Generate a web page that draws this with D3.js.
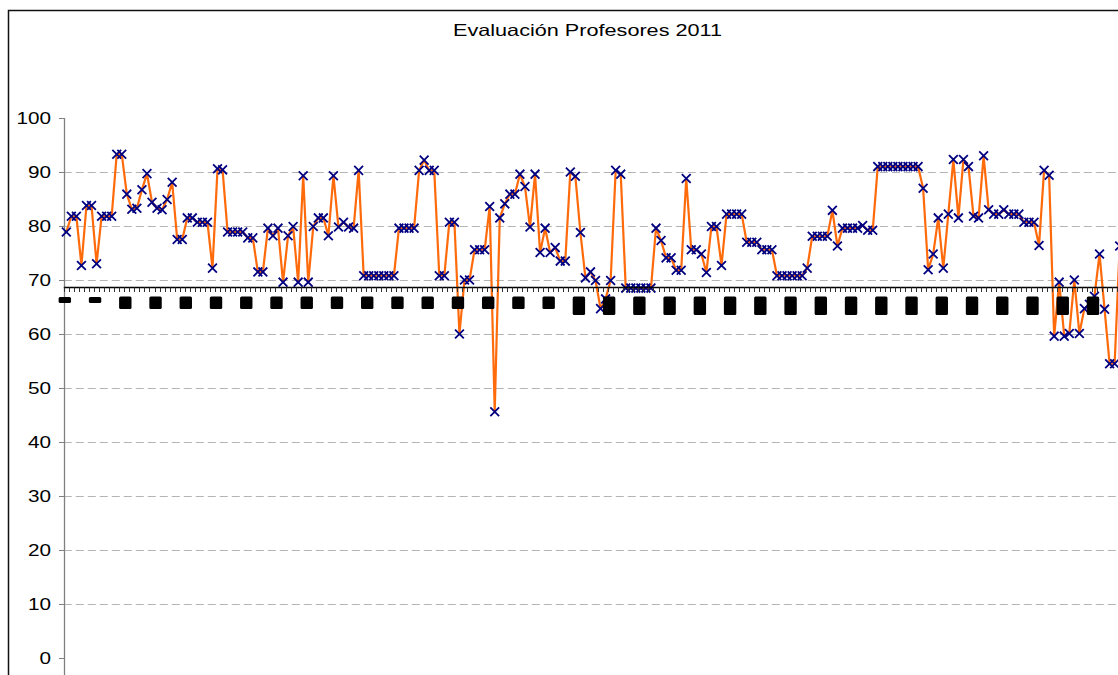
<!DOCTYPE html>
<html lang="es">
<head>
    <meta charset="utf-8">
    <title>Evaluación Profesores 2011</title>
    <style>
        body {
            margin: 0;
            background: #fff;
        }

        svg {
            display: block;
            font-family: "Liberation Sans", Arial, sans-serif;
        }

        .grid line {
            stroke: #b4b4b4;
            stroke-dasharray: 8, 4;
        }
    </style>
</head>
<body>

<svg width="1118" height="675"></svg>

<script src="https://cdn.jsdelivr.net/npm/d3@7"></script>
<script>

    // ---- data ----
    const title = "Evaluación Profesores 2011";

    const yTicks = [0, 10, 20, 30, 40, 50, 60, 70, 80, 90, 100];

    // one value per teacher, in category order (only the visible part of the chart)
    const scores = [
        78.9, 81.8, 81.8, 72.7, 83.8, 83.8, 73.0, 81.8, 81.8, 81.8,
        93.3, 93.3, 85.9, 83.1, 83.3, 86.7, 89.7, 84.4, 83.3, 83.0,
        84.9, 88.1, 77.5, 77.5, 81.5, 81.5, 80.7, 80.7, 80.7, 72.2,
        90.6, 90.4, 78.9, 78.9, 78.9, 78.9, 77.8, 77.8, 71.5, 71.5,
        79.6, 78.2, 79.6, 69.6, 78.2, 79.9, 69.6, 89.3, 69.6, 79.9,
        81.5, 81.5, 78.2, 89.3, 79.8, 80.7, 79.8, 79.6, 90.3, 70.8,
        70.8, 70.8, 70.8, 70.8, 70.8, 70.8, 79.6, 79.6, 79.6, 79.6,
        90.3, 92.2, 90.3, 90.3, 70.8, 70.8, 80.7, 80.7, 60.0, 70.0,
        70.0, 75.6, 75.6, 75.6, 83.6, 45.6, 81.5, 84.1, 85.9, 85.9,
        89.6, 87.3, 79.8, 89.6, 75.1, 79.6, 75.1, 76.0, 73.5, 73.5,
        90.0, 89.2, 78.8, 70.4, 71.5, 69.9, 64.7, 66.5, 69.9, 90.3,
        89.6, 68.5, 68.5, 68.5, 68.5, 68.5, 68.5, 79.6, 77.3, 74.1,
        74.1, 71.8, 71.8, 88.8, 75.6, 75.6, 74.8, 71.4, 79.9, 79.9,
        72.7, 82.2, 82.2, 82.2, 82.2, 77.0, 77.0, 77.0, 75.6, 75.6,
        75.6, 70.8, 70.8, 70.8, 70.8, 70.8, 70.8, 72.2, 78.1, 78.1,
        78.1, 78.1, 82.9, 76.3, 79.6, 79.6, 79.6, 79.6, 80.1, 79.2,
        79.2, 91.0, 91.0, 91.0, 91.0, 91.0, 91.0, 91.0, 91.0, 91.0,
        87.0, 71.9, 74.8, 81.5, 72.2, 82.2, 92.3, 81.5, 92.3, 91.0,
        81.8, 81.5, 93.0, 83.0, 82.2, 82.2, 83.0, 82.2, 82.2, 82.2,
        80.7, 80.7, 80.7, 76.4, 90.3, 89.4, 59.6, 69.6, 59.6, 60.1,
        70.0, 60.1, 64.7, 65.5, 67.0, 74.8, 64.6, 54.5, 54.5, 76.3
    ];

    // category labels are unreadable blocks in the original: one every 6 categories,
    // with three lengths (1 short, 2 medium, 3 long)
    const labelLength = [
        1, 1, 2, 2, 2, 2, 2, 2, 2, 2, 2, 2, 2, 2, 2, 2, 2,
        3, 3, 3, 3, 3, 3, 3, 3, 3, 3, 3, 3, 3, 3, 3, 3, 3, 3
    ];

    // ---- layout ----
    const svg = d3.select("svg");
    const plot = {left: 63.8, top: 118, bottom: 658, step: 5.04};
    const axisCross = 68.7;   // horizontal axis crosses the value axis here
    const nCats = scores.length + 1;
    const cats = d3.range(1, nCats + 1);

    const x = d3.scaleBand()
        .domain(cats)
        .range([plot.left, plot.left + plot.step * nCats])
        .paddingInner(0).paddingOuter(0);
    const cx = i => x(i) + x.bandwidth() / 2;

    const y = d3.scaleLinear()
        .domain([0, 100])
        .range([plot.bottom, plot.top]);

    // chart frame (only its top and left edges are in view)
    svg.append("path")
        .attr("d", "M8.5,675 V10.5 H1118")
        .attr("fill", "none")
        .attr("stroke", "#111")
        .attr("stroke-width", 1.5);

    // title
    svg.append("text")
        .attr("x", 587.5)
        .attr("y", 36)
        .attr("text-anchor", "middle")
        .attr("font-size", 16.5)
        .attr("textLength", 269)
        .attr("lengthAdjust", "spacingAndGlyphs")
        .attr("fill", "#000")
        .text(title);

    // gridlines
    svg.append("g")
        .attr("class", "grid")
        .selectAll("line")
        .data(yTicks.filter(d => d > 0 && d < 100))
        .join("line")
        .attr("x1", plot.left)
        .attr("x2", 1118)
        .attr("y1", d => Math.round(y(d)) + 0.5)
        .attr("y2", d => Math.round(y(d)) + 0.5);

    // value axis
    const yAxis = svg.append("g");
    yAxis.append("line")
        .attr("x1", 64.5).attr("x2", 64.5)
        .attr("y1", plot.top).attr("y2", 675)
        .attr("stroke", "#808080")
        .attr("stroke-width", 1.3);
    yAxis.selectAll(".tick")
        .data(yTicks)
        .join("line")
        .attr("x1", 59).attr("x2", 64.5)
        .attr("y1", d => Math.round(y(d)) + 0.5)
        .attr("y2", d => Math.round(y(d)) + 0.5)
        .attr("stroke", "#808080");
    yAxis.selectAll("text")
        .data(yTicks)
        .join("text")
        .attr("transform", d => `translate(51,${y(d)}) scale(1.22,1)`)
        .attr("text-anchor", "end")
        .attr("dominant-baseline", "central")
        .attr("font-size", 17)
        .attr("fill", "#000")
        .text(d => d);

    // series line + markers
    const pts = scores.map((v, i) => [cx(i + 1), y(v)]);

    svg.append("path")
        .datum(pts)
        .attr("fill", "none")
        .attr("stroke", "#ff6a0a")
        .attr("stroke-width", 2.2)
        .attr("stroke-linejoin", "round")
        .attr("d", d3.line());

    const s = 4.4;
    svg.append("g")
        .selectAll("path")
        .data(pts)
        .join("path")
        .attr("d", d => `M${d[0] - s},${d[1] - s}L${d[0] + s},${d[1] + s}M${d[0] - s},${d[1] + s}L${d[0] + s},${d[1] - s}`)
        .attr("stroke", "#000080")
        .attr("stroke-width", 1.8)
        .attr("fill", "none");

    // category axis
    const yc = Math.round(y(axisCross)) + 0.5;
    const xAxis = svg.append("g");
    xAxis.append("line")
        .attr("x1", plot.left).attr("x2", 1118)
        .attr("y1", yc).attr("y2", yc)
        .attr("stroke", "#000")
        .attr("stroke-width", 1.5);
    xAxis.selectAll(".tk")
        .data(cats)
        .join("line")
        .attr("x1", d => Math.round(x(d)) + 0.5)
        .attr("x2", d => Math.round(x(d)) + 0.5)
        .attr("y1", yc).attr("y2", yc + 4.5)
        .attr("stroke", "#333");

    // blocked-out category labels
    const labelCats = labelLength.map((_, k) => 1 + 6 * k);
    const labelH = {1: 6, 2: 12.5, 3: 18.5};
    xAxis.selectAll("rect")
        .data(labelCats)
        .join("rect")
        .attr("x", (d) => cx(d) - 1.5 - 6.2)
        .attr("y", (d, k) => labelLength[k] === 1 ? 297 : 296.5)
        .attr("width", 12.4)
        .attr("height", (d, k) => labelH[labelLength[k]])
        .attr("rx", 1.5)
        .attr("fill", "#000");

</script>

</body>
</html>
